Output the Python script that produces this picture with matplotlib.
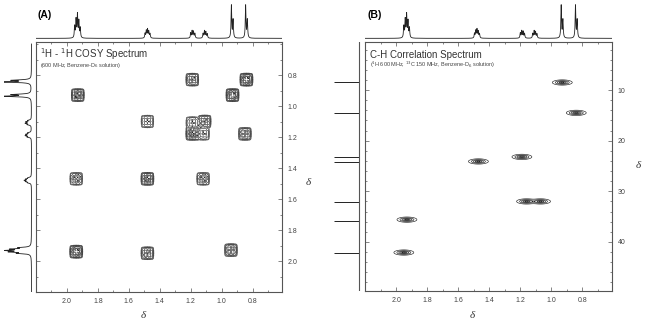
import numpy as np
import matplotlib
matplotlib.use('Agg')
import matplotlib.pyplot as plt
from matplotlib.ticker import MultipleLocator

# ---------------- data ----------------
# 1H spectrum lines (ppm) and intensities (top projection = F2, left projection = F1)
h1_line_ppm = [1.950, 1.941, 1.932, 1.923, 1.914,
               1.495, 1.487, 1.479, 1.471, 1.463,
               1.200, 1.191, 1.182, 1.173,
               1.120, 1.111, 1.102, 1.093,
               0.937, 0.926,
               0.845, 0.834]
h1_f2_int = [0.35, 0.55, 0.70, 0.50, 0.30,
             0.14, 0.22, 0.26, 0.20, 0.13,
             0.16, 0.22, 0.20, 0.14,
             0.14, 0.22, 0.19, 0.13,
             1.00, 0.55,
             1.00, 0.55]
h1_f1_int = [0.45, 0.70, 0.85, 0.65, 0.40,
             0.12, 0.18, 0.22, 0.17, 0.11,
             0.14, 0.20, 0.18, 0.12,
             0.14, 0.20, 0.18, 0.12,
             1.00, 0.70,
             1.00, 0.70]

# COSY cross/diagonal peaks (F2 = x, F1 = y, ppm) and relative intensities
cosy_f2 = [1.93, 1.19, 0.93, 0.84, 1.48, 1.19, 1.11, 1.19, 1.12, 0.85, 1.94, 1.48, 1.12, 1.94, 1.48, 0.94]
cosy_f1 = [0.93, 0.83, 0.93, 0.83, 1.10, 1.11, 1.10, 1.18, 1.18, 1.18, 1.47, 1.47, 1.47, 1.94, 1.95, 1.93]
cosy_int = [0.9, 0.8, 1.0, 1.0, 0.6, 0.6, 0.8, 0.9, 0.6, 0.8, 0.7, 0.9, 0.7, 1.0, 0.8, 0.8]

# C-H correlation peaks (1H ppm, 13C ppm)
hsqc_h = [0.93, 0.84, 1.47, 1.19, 1.16, 1.07, 1.93, 1.95]
hsqc_c = [8.5, 14.5, 24.1, 23.2, 32.0, 32.0, 35.6, 42.1]

# 13C projection lines (ppm)
c13_ppm = [8.5, 14.5, 23.2, 24.2, 32.1, 35.8, 42.1]

h_ticks = [2.0, 1.8, 1.6, 1.4, 1.2, 1.0, 0.8]
cosy_y_ticks = [0.8, 1.0, 1.2, 1.4, 1.6, 1.8, 2.0]
c_ticks = [10, 20, 30, 40]

# ---------------- style ----------------
W, H = 648, 325
fig = plt.figure(figsize=(W / 100, H / 100), dpi=100)
plt.rcParams['font.family'] = ['Liberation Sans', 'DejaVu Sans']
INK = '#222222'
SP = '#555555'

XL = (2.2, 0.61)


def fr(x0, y0, x1, y1):
    return [x0 / W, 1 - y1 / H, (x1 - x0) / W, (y1 - y0) / H]


def style_main(ax):
    for s in ax.spines.values():
        s.set_color(SP)
        s.set_linewidth(0.8)
    ax.tick_params(which='both', direction='in', top=True, right=True, left=True, bottom=True,
                   labelleft=False, labelright=True, labelbottom=True, labeltop=False,
                   colors=SP, labelcolor='#444444', labelsize=5, width=0.5, pad=4)
    ax.tick_params(which='major', length=3)
    ax.tick_params(which='minor', length=1.5)


def spectrum(ppm_axis, lines, ints, w=0.0026):
    s = np.zeros_like(ppm_axis)
    for p, a in zip(lines, ints):
        s += a * w ** 2 / ((ppm_axis - p) ** 2 + w ** 2)
    return s


hx = np.linspace(0.6, 2.2, 4000)
top_spec = spectrum(hx, h1_line_ppm, h1_f2_int)
left_spec = spectrum(hx, h1_line_ppm, h1_f1_int, w=0.0035)

# ---------------- Panel A ----------------
axA = fig.add_axes(fr(36, 42, 282, 292))
gx = np.linspace(0.6, 2.2, 1000)
gy = np.linspace(0.58, 2.2, 1000)
GX, GY = np.meshgrid(gx, gy)
Z = np.zeros_like(GX)
offs = [-0.03, -0.015, 0.0, 0.015, 0.03]
wts = [0.6, 0.9, 1.0, 0.85, 0.55]
for px, py, a in zip(cosy_f2, cosy_f1, cosy_int):
    for dx, wx in zip(offs, wts):
        for dy, wy in zip(offs, wts):
            Z += a * wx * wy * np.exp(-(((GX - px - dx) / 0.0062) ** 2 + ((GY - py - dy) / 0.0062) ** 2) / 2)
axA.contour(GX, GY, Z, levels=[0.08, 0.18, 0.3, 0.45, 0.6, 0.75, 0.9], colors=INK, linewidths=0.4)
axA.set_xlim(*XL)
axA.set_ylim(2.2, 0.587)
axA.set_xticks(h_ticks)
axA.set_yticks(cosy_y_ticks)
axA.xaxis.set_minor_locator(MultipleLocator(0.1))
axA.yaxis.set_minor_locator(MultipleLocator(0.1))
style_main(axA)
axA.text(0.016, 1 - 16 / 250, r'$^{1}$H - $^{1}$H COSY Spectrum', transform=axA.transAxes,
         fontsize=7, color='#333333', ha='left', va='baseline')
axA.text(0.016, 1 - 25 / 250, r'(600 MHz, Benzene-D$_6$ solution)', transform=axA.transAxes,
         fontsize=4, color='#444444', ha='left', va='baseline')

# top projection A
axAt = fig.add_axes(fr(36, 4, 282, 39))
axAt.plot(hx, top_spec, color=INK, lw=0.6)
axAt.set_xlim(*XL)
axAt.set_ylim(-0.02, 1.05)
axAt.axis('off')

# left projection A
axAl = fig.add_axes(fr(4, 42, 32, 292))
axAl.plot(left_spec, hx, color=INK, lw=0.6)
axAl.set_ylim(2.2, 0.587)
axAl.set_xlim(1.05, -0.02)
axAl.axis('off')

# ---------------- Panel B ----------------
axB = fig.add_axes(fr(365, 42, 612, 291))
by = np.linspace(0, 50, 900)
BX, BY = np.meshgrid(gx, by)
ZB = np.zeros_like(BX)
for ph, pc in zip(hsqc_h, hsqc_c):
    ZB += np.exp(-(((BX - ph) / 0.027) ** 2 + ((BY - pc) / 0.22) ** 2) / 2)
axB.contour(BX, BY, ZB, levels=[0.06, 0.25, 0.5, 0.75, 0.92], colors=INK, linewidths=0.45)
axB.set_xlim(*XL)
axB.set_ylim(49.7, 0.5)
axB.set_xticks(h_ticks)
axB.set_yticks(c_ticks)
axB.xaxis.set_minor_locator(MultipleLocator(0.1))
axB.yaxis.set_minor_locator(MultipleLocator(2))
style_main(axB)
axB.text(0.02, 1 - 16 / 249, 'C-H Correlation Spectrum', transform=axB.transAxes,
         fontsize=7, color='#333333', ha='left', va='baseline')
axB.text(0.02, 1 - 25 / 249, r'($^{1}$H 600 MHz; $^{13}$C 150 MHz, Benzene-D$_6$ solution)',
         transform=axB.transAxes, fontsize=4, color='#444444', ha='left', va='baseline')

axBt = fig.add_axes(fr(365, 4, 612, 39))
axBt.plot(hx, top_spec, color=INK, lw=0.6)
axBt.set_xlim(*XL)
axBt.set_ylim(-0.02, 1.05)
axBt.axis('off')

axBl = fig.add_axes(fr(334, 42, 362, 291))
axBl.hlines(c13_ppm, 0, 1, color=INK, lw=0.7)
axBl.axvline(0, color=SP, lw=0.8)
axBl.set_ylim(49.7, 0.5)
axBl.set_xlim(1.0, -0.1)
axBl.axis('off')

# ---------------- labels ----------------
fig.text(37 / W, 1 - 15 / H, '(A)', fontsize=7.5, fontweight='bold', ha='left', va='center')
fig.text(367 / W, 1 - 15 / H, '(B)', fontsize=7.5, fontweight='bold', ha='left', va='center')
dfont = dict(family=['Liberation Serif', 'DejaVu Serif'], style='italic', fontsize=8, color='#333333')
fig.text(143 / W, 1 - 316 / H, 'δ', ha='center', va='center', **dfont)
fig.text(308 / W, 1 - 182 / H, 'δ', ha='center', va='center', **dfont)
fig.text(472 / W, 1 - 316 / H, 'δ', ha='center', va='center', **dfont)
fig.text(638 / W, 1 - 165 / H, 'δ', ha='center', va='center', **dfont)

fig.savefig('out.png', dpi=100, facecolor='white')
